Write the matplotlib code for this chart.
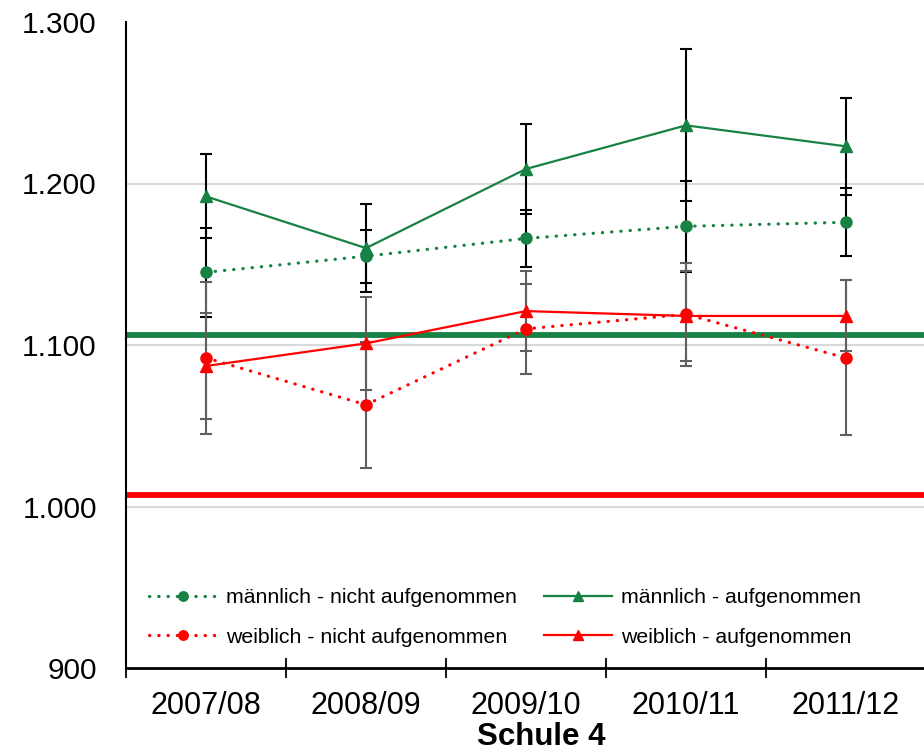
import matplotlib
matplotlib.use("Agg")
import matplotlib.pyplot as plt
from matplotlib.ticker import FixedLocator

plt.rcParams['font.family'] = ['Liberation Sans', 'DejaVu Sans']

categories = ['2007/08', '2008/09', '2009/10', '2010/11', '2011/12']
m_nicht = [1145, 1155, 1166, 1173.5, 1176]
m_nicht_err = [27.5, 16.5, 17.5, 28, 21]
m_auf = [1192, 1160, 1209, 1236, 1223]
m_auf_err = [26, 27, 28, 47, 30]
w_nicht = [1092, 1063, 1110, 1119, 1092]
w_nicht_err = [47, 39, 28, 32, 48]
w_auf = [1087, 1101, 1121, 1118, 1118]
w_auf_err = [33, 29, 25, 28, 22]
ref_m = 1106
ref_w = 1007
yticks = [900, 1000, 1100, 1200, 1300]
ytick_labels = ['900', '1.000', '1.100', '1.200', '1.300']
labels = ['männlich - nicht aufgenommen', 'männlich - aufgenommen',
          'weiblich - nicht aufgenommen', 'weiblich - aufgenommen']
title = 'Schule 4'

GREEN = '#178243'
RED = '#ff0000'

fig = plt.figure(figsize=(9.24, 7.55), dpi=100)
ax = fig.add_axes([126/924, 1-668/755, 800/924, 646/755])

x = list(range(len(categories)))

# gridlines
for v in yticks[1:-1]:
    ax.axhline(v, color='#d9d9d9', lw=1.5, zorder=0)

# reference lines
ax.axhline(ref_m, color=GREEN, lw=4.2, zorder=1)
ax.axhline(ref_w, color=RED, lw=4.2, zorder=1)

# error bars
ebkw = dict(fmt='none', elinewidth=1.5, capsize=4.3, capthick=1.5, zorder=3)
ax.errorbar(x, m_nicht, yerr=m_nicht_err, ecolor='black', **ebkw)
ax.errorbar(x, m_auf, yerr=m_auf_err, ecolor='black', **ebkw)
ax.errorbar(x, w_nicht, yerr=w_nicht_err, ecolor='#5f5f5f', **ebkw)
ax.errorbar(x, w_auf, yerr=w_auf_err, ecolor='#5f5f5f', **ebkw)

dot = (0, (0.1, 2.8))
h1, = ax.plot(x, m_nicht, color=GREEN, lw=2.3, linestyle=dot, dash_capstyle='round',
              marker='o', markersize=8, zorder=4)
h2, = ax.plot(x, m_auf, color=GREEN, lw=1.6, marker='^', markersize=9, zorder=4)
h3, = ax.plot(x, w_nicht, color=RED, lw=2.3, linestyle=dot, dash_capstyle='round',
              marker='o', markersize=8, zorder=4)
h4, = ax.plot(x, w_auf, color=RED, lw=1.6, marker='^', markersize=9, zorder=4)

ax.set_xlim(-0.5, len(categories) - 0.5)
ax.set_ylim(900, 1300)

ax.set_yticks(yticks)
ax.set_yticklabels(ytick_labels, fontsize=21.5)
ax.tick_params(axis='y', length=0, pad=21)

ax.set_xticks(x)
ax.set_xticklabels(categories, fontsize=22)
ax.tick_params(axis='x', which='major', length=0, pad=16.5)
ax.xaxis.set_minor_locator(FixedLocator([i + 0.5 for i in range(-1, len(categories))]))
ax.tick_params(axis='x', which='minor', direction='inout', length=14, width=1.3, color='black')

for s in ['top', 'right']:
    ax.spines[s].set_visible(False)
ax.spines['left'].set_linewidth(1.5)
ax.spines['bottom'].set_linewidth(2.0)

leg = ax.legend([h1, h3, h2, h4], [labels[0], labels[2], labels[1], labels[3]],
                ncol=2, loc='center left', bbox_to_anchor=(23/800, (668-617.5)/646),
                frameon=False, fontsize=15.3, handlelength=3.2, handletextpad=0.42,
                columnspacing=1.3, labelspacing=0.95, borderpad=0, borderaxespad=0,
                markerscale=0.85)

fig.text(541/924, 1-745/755, title, ha='center', va='baseline', fontsize=22.5, fontweight='bold')

fig.savefig('out.png', dpi=100)
